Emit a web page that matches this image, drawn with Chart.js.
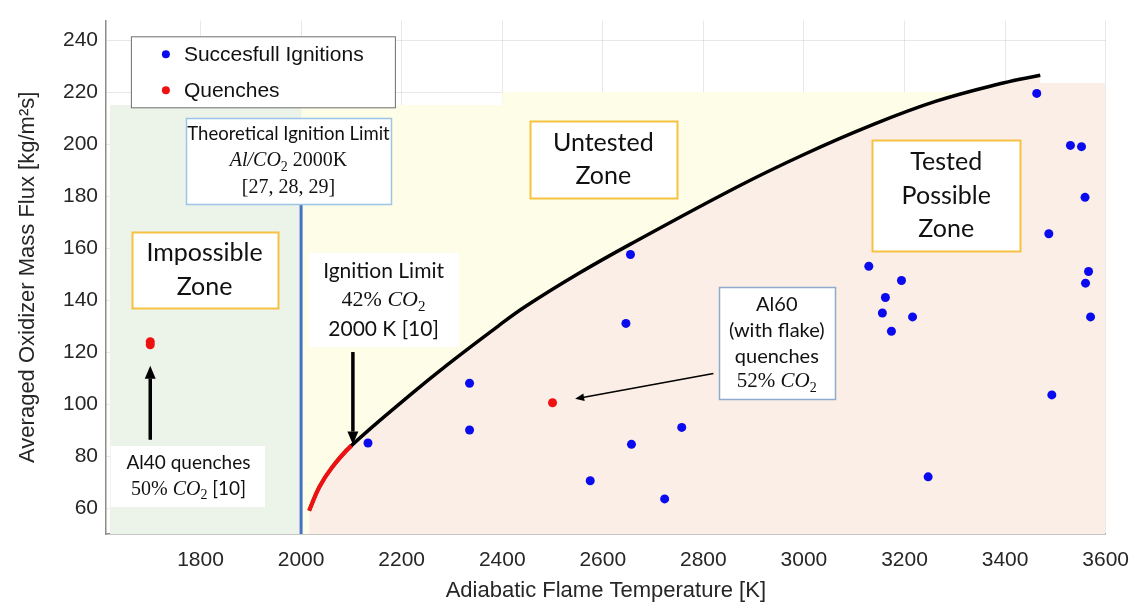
<!DOCTYPE html>
<html>
<head>
<meta charset="utf-8">
<script src="https://cdn.jsdelivr.net/npm/chart.js@4.4.0/dist/chart.umd.min.js"></script>
<style>
  html, body { margin: 0; padding: 0; background: #fff; }
  canvas { display: block; }
</style>
</head>
<body>
<canvas id="chart" width="1143" height="608"></canvas>
<script>
// Values
const ignitionTemps = [2133, 2335, 2335, 2575, 2646, 2655, 2657, 2723, 2757, 3129, 3156, 3162, 3174, 3194, 3216, 3247, 3463, 3487, 3493, 3530, 3552, 3559, 3560, 3566, 3570];
const ignitionFlux  = [85, 108, 90, 70.5, 131, 157.5, 84.5, 63.5, 91, 153, 135, 141, 128, 147.5, 133.5, 72, 219.5, 165.5, 103.5, 199.5, 199, 179.5, 146.5, 151, 133.5];

const quenchTemps = [1700, 1700, 2500];
const quenchFlux  = [124, 122.8, 100.5];

// ignition limit curve (red part below 2100 K, black above)
const limitLowTemps = [2016, 2036, 2061, 2100];
const limitLowFlux  = [59, 68, 75.5, 84];
const limitTemps = [2220, 2290, 2392, 2446, 2550, 2655, 2867, 3000, 3131, 3263, 3396, 3470];
const limitFlux  = [104, 115, 130, 137.5, 150, 161.5, 183.5, 196, 207, 216.5, 223.5, 226.5];
const limitSwitch = 2100;

// shaded zones
const impossibleTemps = [1620, 2000];
const impossibleFlux  = [215, 215];
const untestedTemps = [2000, 2400, 2400, 3320];
const untestedFlux  = [215, 215, 220, 220];
const testedTemps = [3420, 3600];
const testedFlux  = [223.5, 223.5];
const theoryTemps = [2000, 2000];
const theoryFlux  = [50, 190];

const xTicks = [1800, 2000, 2200, 2400, 2600, 2800, 3000, 3200, 3400, 3600];
const yTicks = [60, 80, 100, 120, 140, 160, 180, 200, 220, 240];

const pts = (xs, ys) => xs.map((x, i) => ({ x: x, y: ys[i] }));
const limitCurve = pts(limitLowTemps.concat(limitTemps), limitLowFlux.concat(limitFlux));

const SANS = 'Lato, "Open Sans", sans-serif';
const SERIF = '"Liberation Serif", "DejaVu Serif", serif';
const ARIAL = '"Liberation Sans", Arial, sans-serif';

// text boxes: centre in data units, size in px
const notes = [
  { x: 1975, y: 193.5, w: 205, h: 86, lh: 26.5, size: 18.5, math: 20, border: '#9dc3e6', lw: 1.5,
    lines: [[['Theoretical Ignition Limit', 'r']], [['Al/CO', 'i'], ['2', 'b'], [' 2000K', 's']], [['[27, 28, 29]', 's']]] },
  { x: 1808, y: 151.5, w: 146, h: 76, lh: 34, size: 25, math: 25, border: '#f5c242', lw: 2,
    lines: [[['Impossible', 'r']], [['Zone', 'r']]] },
  { x: 2601, y: 194, w: 147, h: 77, lh: 33, size: 25, math: 25, border: '#f5c242', lw: 2,
    lines: [[['Untested', 'r']], [['Zone', 'r']]] },
  { x: 3283, y: 180.2, w: 148, h: 111, lh: 33.5, size: 25, math: 25, border: '#f5c242', lw: 2,
    lines: [[['Tested', 'r']], [['Possible', 'r']], [['Zone', 'r']]] },
  { x: 2164, y: 139.9, w: 150, h: 94, lh: 29, size: 21, math: 22, border: null,
    lines: [[['Ignition Limit', 'r']], [['42% ', 's'], ['CO', 'i'], ['2', 'b']], [['2000 K [10]', 'r']]] },
  { x: 2946, y: 123.4, w: 116, h: 112, lh: 25.7, size: 20, math: 21, border: '#8eaacc', lw: 1.5,
    lines: [[['Al60', 'r']], [['(with flake)', 'r']], [['quenches', 'r']], [['52% ', 's'], ['CO', 'i'], ['2', 'b']]] },
  { x: 1776, y: 72.2, w: 154, h: 61, lh: 26, size: 19, math: 20, border: null,
    lines: [[['Al40 quenches', 'r']], [['50% ', 's'], ['CO', 'i'], ['2', 'b'], [' [10]', 'r']]] }
];

const arrows = [
  { from: [1700, 86.25], to: [1700, 114.75], lw: 3.5, head: 13 },
  { from: [2103, 120], to: [2103, 84.4], lw: 3.5, head: 13 },
  { from: [2820, 111.75], to: [2545, 102], lw: 1.5, head: 9 }
];

function runFont(kind, n) {
  if (kind === 'i') return 'italic ' + n.math + 'px ' + SERIF;
  if (kind === 's') return n.math + 'px ' + SERIF;
  if (kind === 'b') return Math.round(n.math * 0.68) + 'px ' + SERIF;
  return n.size + 'px ' + SANS;
}

function drawRuns(ctx, runs, cx, cy, n) {
  ctx.textBaseline = 'middle';
  ctx.textAlign = 'left';
  let total = 0;
  const widths = runs.map(([t, k]) => {
    ctx.font = runFont(k, n);
    const w = ctx.measureText(t).width;
    total += w;
    return w;
  });
  let x = cx - total / 2;
  runs.forEach(([t, k], i) => {
    ctx.font = runFont(k, n);
    ctx.fillText(t, x, k === 'b' ? cy + n.math * 0.3 : cy);
    x += widths[i];
  });
}

function drawArrow(ctx, x0, y0, x1, y1, lw, head) {
  const ang = Math.atan2(y1 - y0, x1 - x0);
  const bx = x1 - Math.cos(ang) * head, by = y1 - Math.sin(ang) * head;
  ctx.strokeStyle = '#000';
  ctx.fillStyle = '#000';
  ctx.lineWidth = lw;
  ctx.beginPath();
  ctx.moveTo(x0, y0);
  ctx.lineTo(bx, by);
  ctx.stroke();
  const hw = head * 0.42;
  ctx.beginPath();
  ctx.moveTo(x1, y1);
  ctx.lineTo(bx + Math.sin(ang) * hw, by - Math.cos(ang) * hw);
  ctx.lineTo(bx - Math.sin(ang) * hw, by + Math.cos(ang) * hw);
  ctx.closePath();
  ctx.fill();
}

const annotations = {
  id: 'annotations',
  afterDraw(chart) {
    const ctx = chart.ctx;
    const xs = chart.scales.x, ys = chart.scales.y;
    ctx.save();

    // arrows
    arrows.forEach(a => {
      drawArrow(ctx, xs.getPixelForValue(a.from[0]), ys.getPixelForValue(a.from[1]),
        xs.getPixelForValue(a.to[0]), ys.getPixelForValue(a.to[1]), a.lw, a.head);
    });

    // boxes
    notes.forEach(n => {
      const cx = xs.getPixelForValue(n.x), cy = ys.getPixelForValue(n.y);
      const l = Math.round(cx - n.w / 2), t = Math.round(cy - n.h / 2);
      ctx.fillStyle = '#fff';
      ctx.fillRect(l, t, n.w, n.h);
      if (n.border) {
        ctx.strokeStyle = n.border;
        ctx.lineWidth = n.lw;
        ctx.strokeRect(l + 0.5, t + 0.5, n.w, n.h);
      }
      ctx.fillStyle = '#111';
      const start = cy - (n.lines.length * n.lh) / 2 + n.lh / 2;
      n.lines.forEach((runs, i) => drawRuns(ctx, runs, cx, start + i * n.lh, n));
    });

    // legend
    const lx = xs.getPixelForValue(1924) - 132, ly = ys.getPixelForValue(227.8) - 35.5;
    ctx.fillStyle = '#fff';
    ctx.fillRect(lx, ly, 264, 71);
    ctx.strokeStyle = '#6e6e6e';
    ctx.lineWidth = 1;
    ctx.strokeRect(lx + 0.5, ly + 0.5, 264, 71);
    const items = [['Succesfull Ignitions', '#0a0aee'], ['Quenches', '#ee1111']];
    items.forEach(([label, col], i) => {
      const yy = ly + 18 + i * 36;
      ctx.fillStyle = col;
      ctx.beginPath();
      ctx.arc(lx + 35, yy, 4, 0, Math.PI * 2);
      ctx.fill();
      ctx.fillStyle = '#111';
      ctx.font = '21px ' + ARIAL;
      ctx.textAlign = 'left';
      ctx.textBaseline = 'middle';
      ctx.fillText(label, lx + 53, yy + 1);
    });
    ctx.restore();
  }
};

const zone = (data, color, order) => ({
  data: data, showLine: true, borderWidth: 0, borderColor: 'rgba(0,0,0,0)',
  backgroundColor: color, fill: 'start', pointRadius: 0, order: order
});

new Chart(document.getElementById('chart'), {
  type: 'line',
  data: {
    datasets: [
      { label: 'Succesfull Ignitions', data: pts(ignitionTemps, ignitionFlux), showLine: false,
        pointRadius: 4.5, pointBorderWidth: 0, pointBackgroundColor: '#0a0aee', order: 1 },
      { label: 'Quenches', data: pts(quenchTemps, quenchFlux), showLine: false,
        pointRadius: 4.5, pointBorderWidth: 0, pointBackgroundColor: '#ee1111', order: 1 },
      // red low part drawn over the black curve
      { data: limitCurve, borderWidth: 4.2, tension: 0.4, pointRadius: 0, fill: false, order: 5,
        borderColor: '#ee1111',
        segment: { borderColor: c => c.p0.parsed.x < limitSwitch ? '#ee1111' : 'rgba(0,0,0,0)' } },
      { data: limitCurve, borderColor: '#000', borderWidth: 3.5, tension: 0.4, pointRadius: 0,
        fill: 'start', backgroundColor: '#fbeee6', order: 6 },
      { data: pts(theoryTemps, theoryFlux), borderColor: '#4472c4', borderWidth: 3,
        pointRadius: 0, fill: false, order: 4 },
      zone(pts(testedTemps, testedFlux), '#fbeee6', 8),
      zone(pts(impossibleTemps, impossibleFlux), '#ecf3e8', 9),
      zone(pts(untestedTemps, untestedFlux), '#fefee8', 10)
    ]
  },
  options: {
    responsive: false,
    animation: false,
    layout: { padding: { left: 0, top: 8, right: 34, bottom: 0 } },
    plugins: { legend: { display: false }, tooltip: { enabled: false } },
    scales: {
      x: {
        type: 'linear', min: 1612, max: 3600, z: 1,
        afterBuildTicks: s => { s.ticks = xTicks.map(v => ({ value: v })); },
        afterFit: s => { s.height = 74; },
        grid: { color: 'rgba(0,0,0,0.09)', drawTicks: false },
        border: { color: '#8c8c8c', width: 1.5 },
        ticks: { color: '#262626', padding: 14, font: { family: ARIAL, size: 21 },
          callback: v => String(v) },
        title: { display: true, text: 'Adiabatic Flame Temperature [K]', color: '#262626',
          padding: { top: 0, bottom: 4 }, font: { family: ARIAL, size: 22 } }
      },
      y: {
        type: 'linear', min: 50, max: 247.5, z: 1,
        afterBuildTicks: s => { s.ticks = yTicks.map(v => ({ value: v })); },
        afterFit: s => { s.width = 106; },
        grid: { color: 'rgba(0,0,0,0.09)', drawTicks: false },
        border: { color: '#8c8c8c', width: 1.5 },
        ticks: { color: '#262626', padding: 8, font: { family: ARIAL, size: 21 },
          callback: v => String(v) },
        title: { display: true, text: 'Averaged Oxidizer Mass Flux [kg/m²s]', color: '#262626',
          padding: { top: 15, bottom: 0 }, font: { family: ARIAL, size: 22 } }
      }
    }
  },
  plugins: [annotations]
});
</script>
</body>
</html>
